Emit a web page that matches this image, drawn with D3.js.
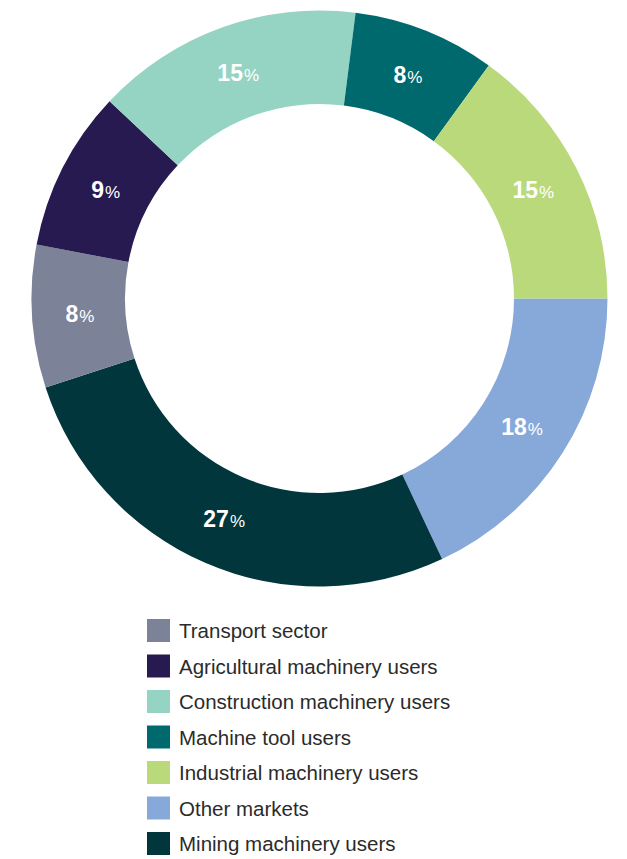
<!DOCTYPE html>
<html>
<head>
<meta charset="utf-8">
<script src="https://cdn.jsdelivr.net/npm/d3@7"></script>
<style>
  html, body { margin: 0; padding: 0; background: #ffffff; }
  svg { display: block; }
</style>
</head>
<body>
<svg id="chart" width="627" height="859"></svg>
<script>
// Pie order as drawn clockwise starting at 3 o'clock
const categories = ["Other markets", "Mining machinery users", "Transport sector", "Agricultural machinery users", "Construction machinery users", "Machine tool users", "Industrial machinery users"];
const values = [18, 27, 8, 9, 15, 8, 15];
const colors = ["#86a9da", "#00363c", "#7c8399", "#271a50", "#95d3c3", "#00696e", "#b9d97b"];
// Legend order
const legendLabels = ["Transport sector", "Agricultural machinery users", "Construction machinery users", "Machine tool users", "Industrial machinery users", "Other markets", "Mining machinery users"];

const svg = d3.select("#chart");
const cx = 319.5, cy = 298.5, R = 288, r = 194.5;

const color = d3.scaleOrdinal().domain(categories).range(colors);
const data = categories.map((c, i) => ({ name: c, value: values[i] }));

const pie = d3.pie().value(d => d.value).sort(null)
  .startAngle(Math.PI / 2).endAngle(Math.PI / 2 + 2 * Math.PI);
const arc = d3.arc().innerRadius(r).outerRadius(R);
const labelArc = d3.arc().innerRadius(R - 2 * (R - 240)).outerRadius(240 + (240 - r) - (240 - r) + (240 - r) * 0 + (R - 240) * 0 + 0).innerRadius(240).outerRadius(240);

const g = svg.append("g").attr("transform", `translate(${cx},${cy})`);
const arcs = pie(data);

g.selectAll("path.slice").data(arcs).enter().append("path")
  .attr("class", "slice")
  .attr("d", arc)
  .attr("fill", d => color(d.data.name));

const lbl = g.selectAll("text.pct").data(arcs).enter().append("text")
  .attr("class", "pct")
  .attr("transform", d => { const c = labelArc.centroid(d); return `translate(${c[0]},${c[1] + 8})`; })
  .attr("text-anchor", "middle")
  .attr("fill", "#ffffff")
  .style("font-family", "'Liberation Sans', Arial, Helvetica, sans-serif");
lbl.append("tspan").style("font-size", "23px").style("font-weight", "bold").text(d => d.data.value);
lbl.append("tspan").style("font-size", "17px").style("font-weight", "normal").attr("dx", 1).text("%");

const legend = svg.append("g");
const ly = d3.scalePoint().domain(legendLabels).range([630.5, 843.5]);
const items = legend.selectAll("g.item").data(legendLabels).enter().append("g")
  .attr("class", "item")
  .attr("transform", d => `translate(0,${ly(d)})`);
items.append("rect").attr("x", 147).attr("y", -11.5).attr("width", 23).attr("height", 23)
  .attr("fill", d => color(d));
items.append("text").attr("x", 179).attr("y", 7.5)
  .attr("fill", "#2b2b2b")
  .style("font-family", "'Liberation Sans', Arial, Helvetica, sans-serif")
  .style("font-size", "20.5px")
  .text(d => d);
</script>
</body>
</html>
